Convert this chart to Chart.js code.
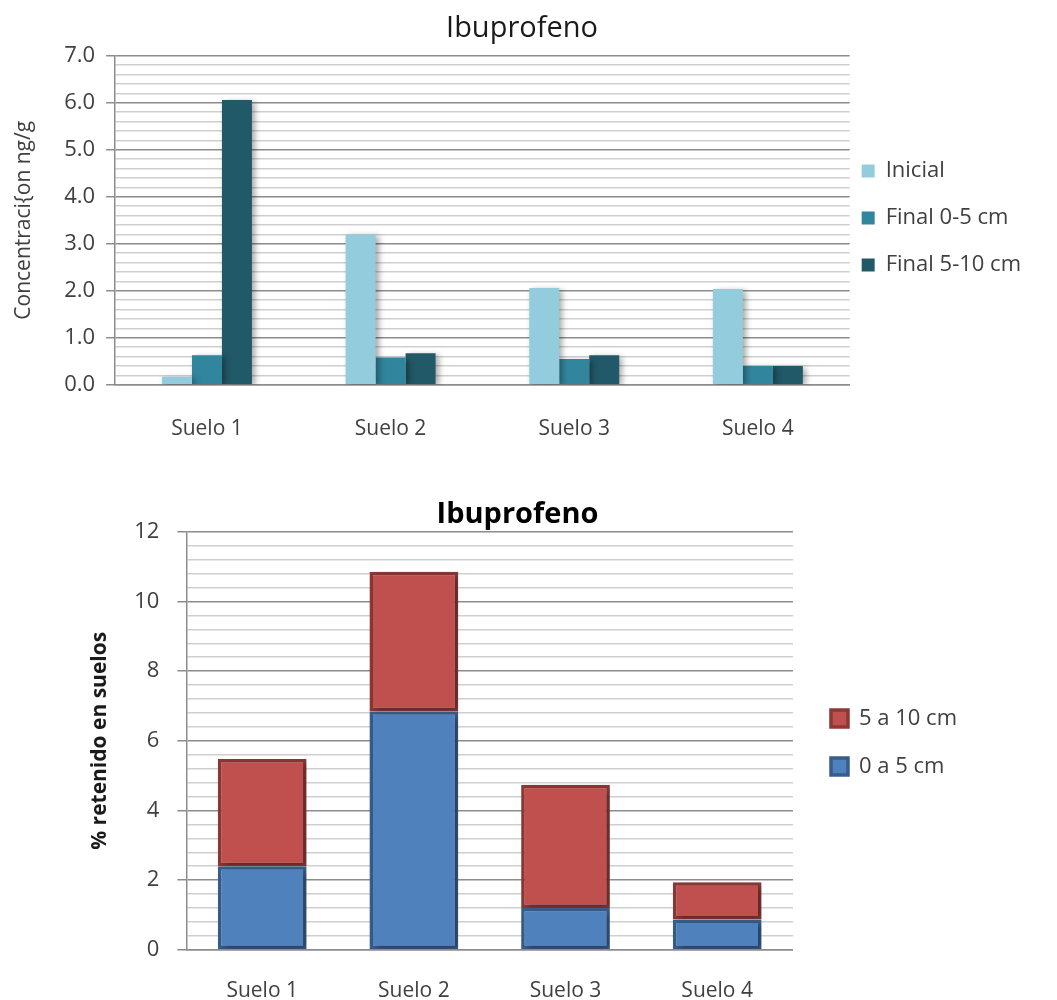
<!DOCTYPE html>
<html>
<head>
<meta charset="utf-8">
<script src="https://cdn.jsdelivr.net/npm/chart.js"></script>
<style>
  body { margin: 0; background: #fff; overflow: hidden; }
  .box { position: absolute; left: 0; }
</style>
</head>
<body>
<div class="box" style="top:0px"><canvas id="chartTop" width="1057" height="474"></canvas></div>
<div class="box" style="top:462px"><canvas id="chartBottom" width="1057" height="538"></canvas></div>
<script>
// datos grafico superior
const suelos = ['Suelo 1', 'Suelo 2', 'Suelo 3', 'Suelo 4'];
const inicial = [0.17, 3.20, 2.06, 2.04];
const final0a5 = [0.63, 0.58, 0.55, 0.40];
const final5a10 = [6.06, 0.67, 0.63, 0.40];

// datos grafico inferior (% retenido)
const ret0a5 = [2.40, 6.85, 1.20, 0.87];
const ret5a10 = [3.08, 4.00, 3.54, 1.07];

const txt = '#404040';
const fuente = '"Open Sans", Lato, sans-serif';

// sombra suave debajo de las barras
const sombra = {
    id: 'sombra',
    beforeDatasetsDraw(chart) {
        const c = chart.ctx;
        c.save();
        c.shadowColor = 'rgba(0,0,0,0.35)';
        c.shadowBlur = 6;
        c.shadowOffsetX = 3;
        c.shadowOffsetY = 2;
    },
    afterDatasetsDraw(chart) {
        chart.ctx.restore();
    }
};

// mueve la leyenda (ajuste fino de posicion)
const moverLeyenda = {
    id: 'moverLeyenda',
    afterLayout(chart, args, opts) {
        const dx = opts.dx || 0;
        const dy = opts.dy || 0;
        if (chart.legend) {
            chart.legend.left += dx;
            chart.legend.right += dx;
            chart.legend.top += dy;
            chart.legend.bottom += dy;
        }
    }
};

function esMayor(v, paso) {
    return Math.abs(v / paso - Math.round(v / paso)) < 1e-6;
}

// ---- grafico superior ----
new Chart(document.getElementById('chartTop'), {
    type: 'bar',
    data: {
        labels: suelos,
        datasets: [
            { label: 'Inicial', data: inicial, backgroundColor: '#93CDDD' },
            { label: 'Final 0-5 cm', data: final0a5, backgroundColor: '#31859C' },
            { label: 'Final 5-10 cm', data: final5a10, backgroundColor: '#215968' }
        ]
    },
    options: {
        responsive: false,
        animation: false,
        layout: { padding: { left: 0, right: 13, top: 0, bottom: 0 } },
        datasets: { bar: { categoryPercentage: 0.49, barPercentage: 1.0 } },
        scales: {
            x: {
                grid: { display: false, tickLength: 0 },
                border: { color: '#8c8c8c', width: 1.5 },
                ticks: { color: txt, font: { family: fuente, size: 21 }, padding: 32 }
            },
            y: {
                min: 0, max: 7,
                border: { color: '#8c8c8c', width: 1.5 },
                grid: {
                    color: ctx => esMayor(ctx.tick.value, 1) ? '#8c8c8c' : '#cfcfcf',
                    tickColor: ctx => esMayor(ctx.tick.value, 1) ? '#8c8c8c' : 'rgba(0,0,0,0)',
                    lineWidth: 1.5,
                    tickLength: 9
                },
                ticks: {
                    stepSize: 0.2,
                    autoSkip: false,
                    color: txt,
                    font: { family: fuente, size: 22 },
                    padding: 11,
                    callback: v => esMayor(v, 1) ? v.toFixed(1) : ''
                },
                title: {
                    display: true,
                    text: 'Concentraci{on ng/g',
                    color: txt,
                    font: { family: fuente, size: 21 },
                    padding: { top: 11, bottom: 17 }
                }
            }
        },
        plugins: {
            title: {
                display: true,
                text: 'Ibuprofeno',
                color: '#1a1a1a',
                font: { family: fuente, size: 29, weight: 'normal' },
                padding: { top: 11, bottom: 10 }
            },
            legend: {
                position: 'right',
                labels: {
                    color: txt,
                    font: { family: fuente, size: 22 },
                    boxWidth: 13,
                    boxHeight: 13,
                    padding: 25
                }
            },
            moverLeyenda: { dx: -13, dy: -19 },
            tooltip: { enabled: false }
        }
    },
    plugins: [sombra, moverLeyenda]
});

// ---- grafico inferior ----
new Chart(document.getElementById('chartBottom'), {
    type: 'bar',
    data: {
        labels: suelos,
        datasets: [
            { label: '0 a 5 cm', data: ret0a5, backgroundColor: '#4F81BD', borderColor: '#385D8A', borderWidth: 3.5, borderSkipped: false },
            { label: '5 a 10 cm', data: ret5a10, backgroundColor: '#C0504D', borderColor: '#8C3836', borderWidth: 3.5, borderSkipped: false }
        ]
    },
    options: {
        responsive: false,
        animation: false,
        layout: { padding: { left: 80, right: 102, top: 0, bottom: -33 } },
        datasets: { bar: { categoryPercentage: 0.585, barPercentage: 1.0 } },
        scales: {
            x: {
                stacked: true,
                grid: { display: false, tickLength: 0 },
                border: { color: '#8c8c8c', width: 1.5 },
                ticks: { color: txt, font: { family: fuente, size: 21 }, padding: 29 }
            },
            y: {
                stacked: true,
                min: 0, max: 12,
                border: { color: '#8c8c8c', width: 1.5 },
                grid: {
                    color: ctx => esMayor(ctx.tick.value, 2) ? '#8c8c8c' : '#cfcfcf',
                    tickColor: ctx => esMayor(ctx.tick.value, 2) ? '#8c8c8c' : 'rgba(0,0,0,0)',
                    lineWidth: 1.5,
                    tickLength: 9
                },
                ticks: {
                    stepSize: 0.4,
                    autoSkip: false,
                    color: txt,
                    font: { family: fuente, size: 22 },
                    padding: 18,
                    callback: v => esMayor(v, 2) ? String(Math.round(v)) : ''
                },
                title: {
                    display: true,
                    text: '% retenido en suelos',
                    color: '#1a1a1a',
                    font: { family: fuente, size: 21, weight: 'bold' },
                    padding: { top: 7, bottom: 4 }
                }
            }
        },
        plugins: {
            title: {
                display: true,
                text: 'Ibuprofeno',
                color: '#000',
                font: { family: fuente, size: 29, weight: 'bold' },
                padding: { top: 35, bottom: 0 }
            },
            legend: {
                position: 'right',
                reverse: true,
                labels: {
                    color: txt,
                    font: { family: fuente, size: 22 },
                    boxWidth: 17,
                    boxHeight: 17,
                    padding: 26
                }
            },
            moverLeyenda: { dx: 12, dy: -5 },
            tooltip: { enabled: false }
        }
    },
    plugins: [sombra, moverLeyenda]
});
</script>
</body>
</html>
